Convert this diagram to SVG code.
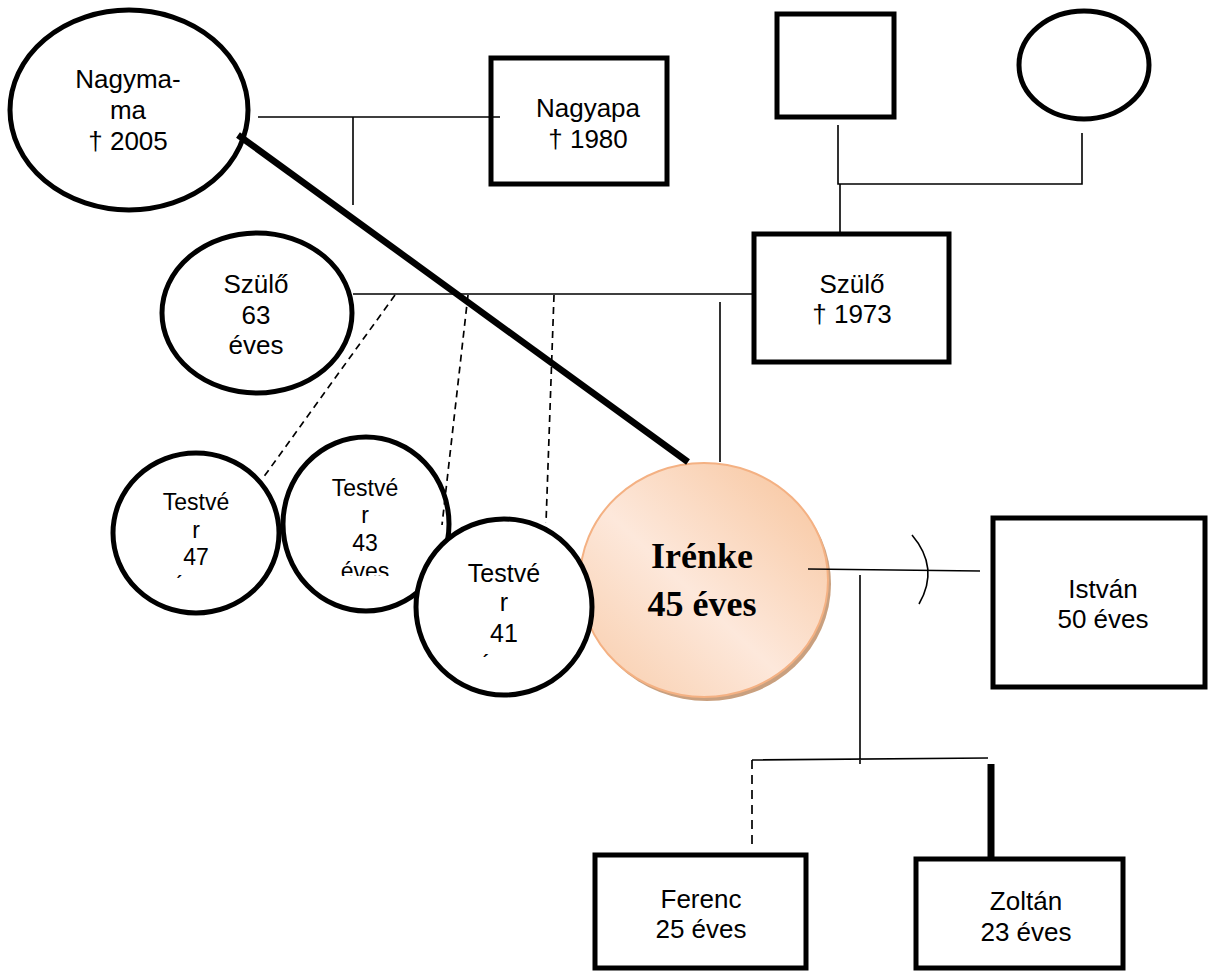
<svg xmlns="http://www.w3.org/2000/svg" width="1209" height="973" viewBox="0 0 1209 973">
<defs>
<style>
.n{fill:#fff;stroke:#000;stroke-width:5}
.t{font-family:"Liberation Sans",Arial,sans-serif;font-size:26px;fill:#000;text-anchor:middle}
.ts{font-family:"Liberation Sans",Arial,sans-serif;font-size:23px;fill:#000;text-anchor:middle}
.ir{font-family:"Liberation Serif","DejaVu Serif",serif;font-weight:bold;font-size:36px;fill:#000;text-anchor:middle}
.c{fill:none;stroke:#000;stroke-width:1.6}
.d{fill:none;stroke:#000;stroke-width:1.7;stroke-dasharray:7 5}
</style>
<linearGradient id="g" x1="0" y1="1" x2="1" y2="0">
<stop offset="0" stop-color="#f8cba8"/>
<stop offset="0.45" stop-color="#fde8db"/>
<stop offset="1" stop-color="#f7c39a"/>
</linearGradient>
<clipPath id="k47"><rect x="100" y="440" width="200" height="138"/></clipPath>
<clipPath id="k43"><rect x="270" y="430" width="200" height="146"/></clipPath>
<clipPath id="k41"><rect x="400" y="510" width="210" height="147"/></clipPath>
</defs>
<rect width="1209" height="973" fill="#fff"/>

<g id="nagymama">
<ellipse class="n" cx="129" cy="110" rx="119" ry="100"/>
<text class="t" x="128" y="88">Nagyma-</text>
<text class="t" x="128" y="119">ma</text>
<text class="t" x="128" y="150">† 2005</text>
</g>
<g id="nagyapa">
<rect class="n" x="491" y="58" width="176" height="126"/>
<text class="t" x="588" y="117">Nagyapa</text>
<text class="t" x="588" y="148">† 1980</text>
</g>
<g id="nagyszulo-ffi">
<rect class="n" x="777" y="14" width="117" height="103"/>
</g>
<g id="nagyszulo-no">
<ellipse class="n" cx="1084" cy="65" rx="65" ry="54"/>
</g>
<g id="szulo-apa">
<rect class="n" x="754" y="234" width="195" height="128"/>
<text class="t" x="852" y="293">Szülő</text>
<text class="t" x="852" y="323">† 1973</text>
</g>
<g id="szulo-anya">
<ellipse class="n" cx="257" cy="313" rx="95" ry="80"/>
<text class="t" x="256" y="293">Szülő</text>
<text class="t" x="256" y="324">63</text>
<text class="t" x="256" y="354">éves</text>
</g>
<g id="testver47">
<ellipse class="n" cx="196" cy="533" rx="83" ry="80"/>
<g clip-path="url(#k47)">
<text class="ts" x="196" y="510">Testvé</text>
<text class="ts" x="196" y="538">r</text>
<text class="ts" x="196" y="565">47</text>
<text class="ts" x="196" y="593">éves</text>
</g>
</g>
<g id="testver43">
<ellipse class="n" cx="366" cy="524" rx="83" ry="87"/>
<g clip-path="url(#k43)">
<text class="ts" x="365" y="496">Testvé</text>
<text class="ts" x="365" y="523">r</text>
<text class="ts" x="365" y="551">43</text>
<text class="ts" x="365" y="579">éves</text>
</g>
</g>
<g id="irenke">
<ellipse cx="707" cy="584" rx="124" ry="117" fill="#c9a07f"/>
<ellipse cx="704" cy="580" rx="124" ry="117" fill="url(#g)" stroke="#f4b183" stroke-width="2"/>
<text class="ir" x="702" y="568">Irénke</text>
<text class="ir" x="702" y="616">45 éves</text>
</g>
<g id="testver41">
<ellipse class="n" cx="504" cy="607" rx="88" ry="88"/>
<g clip-path="url(#k41)">
<text class="ts" x="504" y="582" style="font-size:25px">Testvé</text>
<text class="ts" x="504" y="611" style="font-size:25px">r</text>
<text class="ts" x="504" y="642" style="font-size:25px">41</text>
<text class="ts" x="504" y="673" style="font-size:25px">éves</text>
</g>
</g>
<g id="istvan">
<rect class="n" x="993" y="518" width="212" height="169"/>
<text class="t" x="1103" y="598">István</text>
<text class="t" x="1103" y="628">50 éves</text>
</g>
<g id="ferenc">
<rect class="n" x="595" y="855" width="211" height="113"/>
<text class="t" x="701" y="908">Ferenc</text>
<text class="t" x="701" y="938">25 éves</text>
</g>
<g id="zoltan">
<rect class="n" x="916" y="859" width="207" height="109"/>
<text class="t" x="1026" y="910">Zoltán</text>
<text class="t" x="1026" y="941">23 éves</text>
</g>

<g id="connectors">
<path class="c" d="M258 117H500M353 117V205"/>
<path class="c" d="M838 125V184H1082V133M840 184V232"/>
<path class="c" d="M353 294H752M720 302V462"/>
<path class="d" d="M395 295L263 478"/>
<path class="d" d="M468 295L442 525"/>
<path class="d" d="M554 295L546 523"/>
<path d="M238 135L688 462" stroke="#000" stroke-width="6.5" fill="none"/>
<path class="c" d="M808 569L980 571"/>
<path class="c" d="M912 535Q940 568 919 604"/>
<path class="c" d="M860 575V764M752 760L988 758"/>
<path class="d" d="M752 760V845" style="stroke-dasharray:9 6"/>
<path d="M991 764V857" stroke="#000" stroke-width="7" fill="none"/>
</g>
</svg>
